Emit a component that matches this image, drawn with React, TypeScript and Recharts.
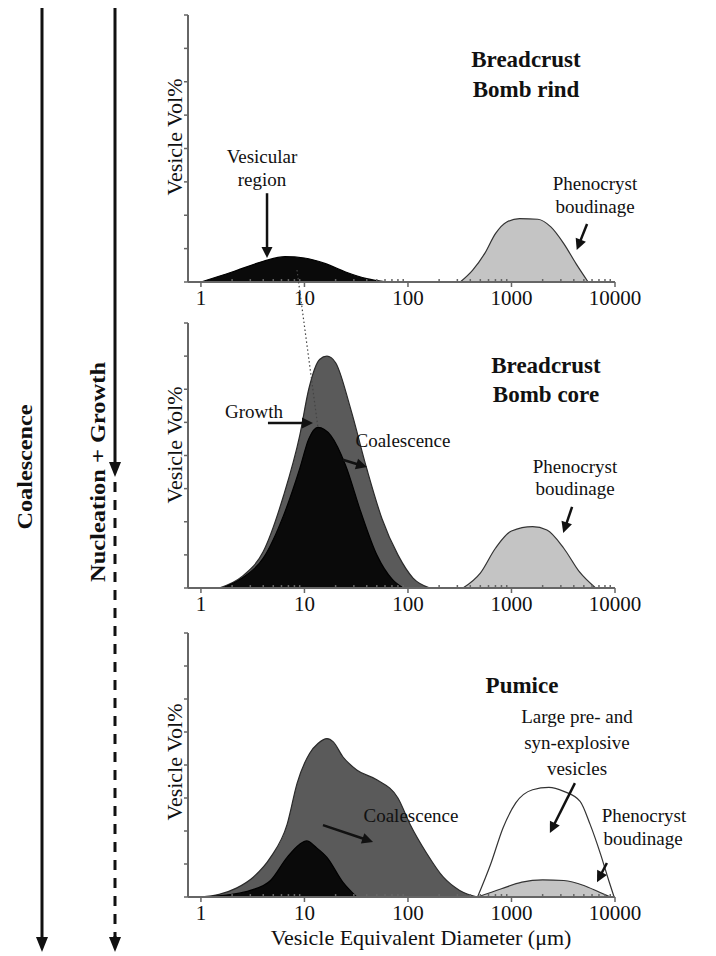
import React from "react";
import { ComposedChart, Area, XAxis, YAxis, ReferenceLine } from "recharts";

const FONT = '"Liberation Serif", "Times New Roman", serif';
const INK = "#111";
const AXIS = "#666";

const DECADES = [1, 10, 100, 1000, 10000];
const MINOR_STEPS = [2, 3, 4, 5, 6, 7, 8, 9];
const Y_TICKS = [0, 1, 2, 3, 4, 5, 6, 7, 8];

// breadcrust bomb rind
const rindVesicles = [
  { d: 1, v: 0 }, { d: 2, v: 0.3 }, { d: 4, v: 0.62 }, { d: 6.5, v: 0.76 },
  { d: 10, v: 0.72 }, { d: 16, v: 0.55 }, { d: 25, v: 0.3 }, { d: 40, v: 0.1 },
  { d: 63, v: 0 },
];
const rindPheno = [
  { d: 320, v: 0 }, { d: 420, v: 0.35 }, { d: 550, v: 0.85 }, { d: 700, v: 1.45 },
  { d: 900, v: 1.8 }, { d: 1200, v: 1.9 }, { d: 1800, v: 1.88 }, { d: 2400, v: 1.65 },
  { d: 3200, v: 1.15 }, { d: 4200, v: 0.55 }, { d: 5500, v: 0 },
];

// breadcrust bomb core
const coreCoalesced = [
  { d: 1.5, v: 0 }, { d: 2.5, v: 0.35 }, { d: 4, v: 1.1 }, { d: 6.3, v: 2.8 },
  { d: 9, v: 4.6 }, { d: 11, v: 6.0 }, { d: 14, v: 6.9 }, { d: 16.5, v: 7.0 },
  { d: 20, v: 6.8 }, { d: 28, v: 5.4 }, { d: 40, v: 3.6 }, { d: 56, v: 2.1 },
  { d: 80, v: 1.0 }, { d: 112, v: 0.3 }, { d: 163, v: 0 },
];
const coreGrowth = [
  { d: 1.6, v: 0 }, { d: 2.5, v: 0.3 }, { d: 4, v: 0.9 }, { d: 6.3, v: 2.2 },
  { d: 9, v: 3.6 }, { d: 11, v: 4.5 }, { d: 13.5, v: 4.85 }, { d: 18, v: 4.6 },
  { d: 25, v: 3.7 }, { d: 35, v: 2.3 }, { d: 50, v: 1.0 }, { d: 71, v: 0.25 },
  { d: 90, v: 0 },
];
const corePheno = [
  { d: 340, v: 0 }, { d: 500, v: 0.45 }, { d: 700, v: 1.2 }, { d: 1000, v: 1.72 },
  { d: 1600, v: 1.85 }, { d: 2200, v: 1.75 }, { d: 3200, v: 1.2 }, { d: 4500, v: 0.5 },
  { d: 6500, v: 0 },
];

// pumice
const pumiceCoalesced = [
  { d: 1, v: 0 }, { d: 1.5, v: 0.08 }, { d: 2.2, v: 0.27 }, { d: 3.2, v: 0.6 },
  { d: 4.7, v: 1.2 }, { d: 6.8, v: 2.2 }, { d: 8.5, v: 3.45 }, { d: 11.2, v: 4.35 },
  { d: 13.5, v: 4.65 }, { d: 16.5, v: 4.8 }, { d: 19, v: 4.7 }, { d: 23.5, v: 4.25 },
  { d: 32, v: 3.85 }, { d: 50, v: 3.55 }, { d: 80, v: 3.0 }, { d: 105, v: 2.2 },
  { d: 150, v: 1.35 }, { d: 220, v: 0.6 }, { d: 316, v: 0.2 }, { d: 470, v: 0 },
];
const pumiceGrowth = [
  { d: 1, v: 0 }, { d: 2, v: 0.08 }, { d: 3, v: 0.2 }, { d: 4.7, v: 0.5 },
  { d: 6.8, v: 1.2 }, { d: 9, v: 1.6 }, { d: 10.5, v: 1.7 }, { d: 13, v: 1.5 },
  { d: 16.5, v: 1.2 }, { d: 23.5, v: 0.45 }, { d: 32, v: 0 },
];
const pumiceLarge = [
  { d: 470, v: 0 }, { d: 630, v: 1.0 }, { d: 830, v: 2.1 }, { d: 1100, v: 2.85 },
  { d: 1600, v: 3.25 }, { d: 2300, v: 3.32 }, { d: 3200, v: 3.2 }, { d: 4600, v: 2.9 },
  { d: 5750, v: 2.2 }, { d: 7250, v: 1.3 }, { d: 8700, v: 0.5 }, { d: 9800, v: 0 },
];
const pumicePheno = [
  { d: 470, v: 0 }, { d: 800, v: 0.25 }, { d: 1260, v: 0.45 }, { d: 2000, v: 0.52 },
  { d: 3200, v: 0.5 }, { d: 5000, v: 0.35 }, { d: 7000, v: 0.15 }, { d: 9000, v: 0 },
];

// annotation arrows, in data units [from, to]
const rindArrows = [
  [{ x: 4.35, y: 2.66 }, { x: 4.35, y: 0.72 }],
  [{ x: 5370, y: 1.74 }, { x: 4270, y: 0.96 }],
];
const coreArrows = [
  [{ x: 4.44, y: 4.98 }, { x: 12.1, y: 4.98 }],
  [{ x: 23.5, y: 3.87 }, { x: 40.2, y: 3.65 }],
  [{ x: 3850, y: 2.45 }, { x: 3160, y: 1.66 }],
];
const pumiceArrows = [
  [{ x: 4100, y: 3.45 }, { x: 2350, y: 1.94 }],
  [{ x: 15.1, y: 2.18 }, { x: 46, y: 1.67 }],
  [{ x: 8350, y: 1.03 }, { x: 6700, y: 0.45 }],
];

const BLACK = { fill: "#0a0a0a", stroke: "#000" };
const DARK = { fill: "#5a5a5a", stroke: "#2a2a2a" };
const LIGHT = { fill: "#c4c4c4", stroke: "#333" };
const WHITE = { fill: "#ffffff", stroke: "#333" };

const xTicks = DECADES.slice(0, 4).flatMap((dec) => [dec, ...MINOR_STEPS.map((m) => m * dec)]).concat([10000]);

function arrowPath(x1: number, y1: number, x2: number, y2: number, w = 2.5, head = 11, half = 5.5) {
  const dx = x2 - x1;
  const dy = y2 - y1;
  const len = Math.hypot(dx, dy) || 1;
  const ux = dx / len;
  const uy = dy / len;
  const bx = x2 - ux * head;
  const by = y2 - uy * head;
  return (
    <g>
      <line x1={x1} y1={y1} x2={bx + ux} y2={by + uy} stroke={INK} strokeWidth={w} />
      <polygon
        points={`${x2},${y2} ${bx - uy * half},${by + ux * half} ${bx + uy * half},${by - ux * half}`}
        fill={INK}
      />
    </g>
  );
}

const ArrowShape = (p: any) => arrowPath(p.x1, p.y1, p.x2, p.y2);

function XTick(props: any) {
  const { x, y, payload } = props;
  const major = DECADES.includes(payload.value);
  return (
    <g>
      <line x1={x} x2={x} y1={major ? y : y - 3} y2={major ? y + 5 : y + 1} stroke={AXIS} strokeWidth={1.5} />
      {major && (
        <text x={x} y={y + 23} textAnchor="middle" fontFamily={FONT} fontSize={21} fill={INK}>
          {payload.value}
        </text>
      )}
    </g>
  );
}

type Series = { data: { d: number; v: number }[]; style: { fill: string; stroke: string } };

function Panel({ top, plotH, series, arrows }: { top: number; plotH: number; series: Series[]; arrows: any[] }) {
  const height = 15 + plotH + 38;
  return (
    <div style={{ position: "absolute", left: 0, top, width: 716, height }}>
      <ComposedChart width={716} height={height} margin={{ top: 15, right: 101, bottom: 8, left: 178 }}>
        <XAxis
          dataKey="d"
          type="number"
          scale="log"
          domain={[0.75, 10000]}
          allowDataOverflow
          ticks={xTicks}
          interval={0}
          tickSize={0}
          tickMargin={0}
          tickLine={false}
          tick={<XTick />}
          axisLine={{ stroke: AXIS, strokeWidth: 2 }}
          height={30}
        />
        <YAxis
          type="number"
          domain={[0, 8]}
          ticks={Y_TICKS}
          interval={0}
          width={10}
          tickFormatter={() => ""}
          tickSize={4}
          tickLine={{ stroke: AXIS, strokeWidth: 1.5 }}
          axisLine={{ stroke: AXIS, strokeWidth: 2 }}
        />
        {series.map((s, i) => (
          <Area
            key={i}
            data={s.data}
            dataKey="v"
            type="monotone"
            fill={s.style.fill}
            fillOpacity={1}
            stroke={s.style.stroke}
            strokeWidth={1.2}
            dot={false}
            activeDot={false}
            isAnimationActive={false}
          />
        ))}
        {arrows.map((a, i) => (
          <ReferenceLine key={"a" + i} segment={a} shape={ArrowShape} ifOverflow="visible" />
        ))}
      </ComposedChart>
    </div>
  );
}

function T({ x, y, size = 19, bold = false, children }: any) {
  return (
    <text x={x} y={y} textAnchor="middle" fontFamily={FONT} fontSize={size} fontWeight={bold ? "bold" : "normal"} fill={INK}>
      {children}
    </text>
  );
}

function VText({ x, y, size = 22, bold = false, len, children }: any) {
  return (
    <text
      x={x}
      y={y}
      transform={`rotate(-90 ${x} ${y})`}
      textAnchor="middle"
      fontFamily={FONT}
      fontSize={size}
      fontWeight={bold ? "bold" : "normal"}
      fill={INK}
      textLength={len}
      lengthAdjust="spacingAndGlyphs"
    >
      {children}
    </text>
  );
}

export default function App() {
  return (
    <div style={{ position: "absolute", left: 0, top: 0, width: 716, height: 956, background: "#fff", overflow: "hidden" }}>
      <Panel top={0} plotH={267} series={[{ data: rindVesicles, style: BLACK }, { data: rindPheno, style: LIGHT }]} arrows={rindArrows} />
      <Panel
        top={308}
        plotH={265}
        series={[
          { data: coreCoalesced, style: DARK },
          { data: coreGrowth, style: BLACK },
          { data: corePheno, style: LIGHT },
        ]}
        arrows={coreArrows}
      />
      <Panel
        top={618}
        plotH={264}
        series={[
          { data: pumiceCoalesced, style: DARK },
          { data: pumiceGrowth, style: BLACK },
          { data: pumiceLarge, style: WHITE },
          { data: pumicePheno, style: LIGHT },
        ]}
        arrows={pumiceArrows}
      />
      <svg width={716} height={956} style={{ position: "absolute", left: 0, top: 0, pointerEvents: "none" }}>
        {/* process arrows on the left */}
        {arrowPath(42, 8, 42, 952, 3, 15, 6)}
        {arrowPath(115, 8, 115, 477, 3, 15, 6)}
        <line x1={115} y1={482} x2={115} y2={940} stroke={INK} strokeWidth={3} strokeDasharray="10 8" />
        {arrowPath(115, 936, 115, 952, 3, 15, 6)}
        <VText x={32} y={467} bold len={125}>Coalescence</VText>
        <VText x={105} y={472} bold len={220}>Nucleation + Growth</VText>

        {/* axis titles */}
        <VText x={182} y={137}>Vesicle Vol%</VText>
        <VText x={182} y={445}>Vesicle Vol%</VText>
        <VText x={182} y={762}>Vesicle Vol%</VText>
        <T x={421} y={945} size={22}>Vesicle Equivalent Diameter (μm)</T>

        {/* panel titles */}
        <T x={526} y={67} size={23} bold>Breadcrust</T>
        <T x={526} y={97} size={23} bold>Bomb rind</T>
        <T x={546} y={373} size={23} bold>Breadcrust</T>
        <T x={546} y={402} size={23} bold>Bomb core</T>
        <T x={522} y={693} size={23} bold>Pumice</T>

        {/* annotations */}
        <T x={262} y={163}>Vesicular</T>
        <T x={262} y={186}>region</T>
        <T x={595} y={190}>Phenocryst</T>
        <T x={595} y={213}>boudinage</T>

        <T x={254} y={418}>Growth</T>
        <T x={403} y={447}>Coalescence</T>
        <T x={575} y={473}>Phenocryst</T>
        <T x={575} y={495}>boudinage</T>

        <T x={577} y={723}>Large pre- and</T>
        <T x={577} y={749}>syn-explosive</T>
        <T x={577} y={775}>vesicles</T>
        <T x={411} y={822}>Coalescence</T>
        <T x={644} y={822}>Phenocryst</T>
        <T x={643} y={845}>boudinage</T>

        <line x1={297} y1={270} x2={318} y2={428} stroke="#444" strokeWidth={1.2} strokeDasharray="1.5 2.5" />
      </svg>
    </div>
  );
}
